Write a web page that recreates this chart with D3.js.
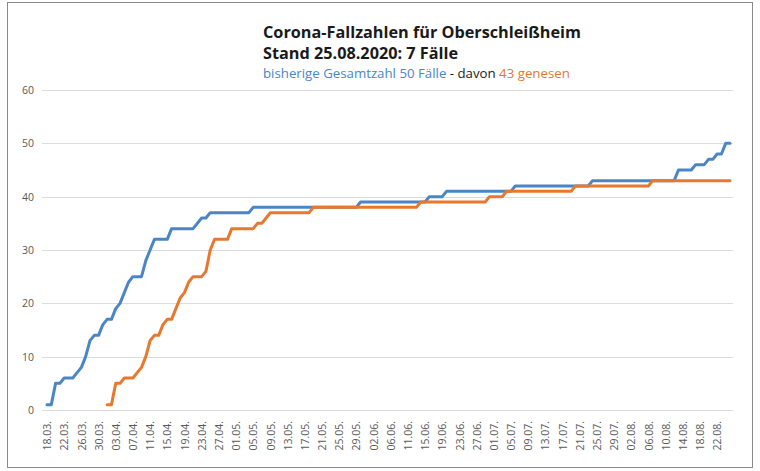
<!DOCTYPE html>
<html><head><meta charset="utf-8">
<script src="https://cdn.jsdelivr.net/npm/d3@7"></script>
<style>html,body{margin:0;padding:0;background:#fff;}svg{display:block;}</style>
</head><body>
<script>
const categories = [
"18.03.","19.03.","20.03.","21.03.","22.03.","23.03.","24.03.","25.03.","26.03.","27.03.","28.03.","29.03.","30.03.","31.03.",
"01.04.","02.04.","03.04.","04.04.","05.04.","06.04.","07.04.","08.04.","09.04.","10.04.","11.04.","12.04.","13.04.","14.04.","15.04.","16.04.","17.04.","18.04.","19.04.","20.04.","21.04.","22.04.","23.04.","24.04.","25.04.","26.04.","27.04.","28.04.","29.04.","30.04.",
"01.05.","02.05.","03.05.","04.05.","05.05.","06.05.","07.05.","08.05.","09.05.","10.05.","11.05.","12.05.","13.05.","14.05.","15.05.","16.05.","17.05.","18.05.","19.05.","20.05.","21.05.","22.05.","23.05.","24.05.","25.05.","26.05.","27.05.","28.05.","29.05.","30.05.","31.05.",
"01.06.","02.06.","03.06.","04.06.","05.06.","06.06.","07.06.","09.06.","10.06.","11.06.","12.06.","13.06.","14.06.","15.06.","16.06.","17.06.","18.06.","19.06.","20.06.","21.06.","22.06.","23.06.","24.06.","25.06.","26.06.","27.06.","28.06.","29.06.","30.06.",
"01.07.","02.07.","03.07.","04.07.","05.07.","06.07.","07.07.","08.07.","09.07.","10.07.","11.07.","12.07.","13.07.","14.07.","15.07.","16.07.","17.07.","18.07.","19.07.","20.07.","21.07.","22.07.","23.07.","24.07.","25.07.","26.07.","27.07.","28.07.","29.07.","30.07.","31.07.",
"01.08.","02.08.","03.08.","04.08.","05.08.","06.08.","07.08.","08.08.","09.08.","10.08.","11.08.","12.08.","13.08.","14.08.","15.08.","16.08.","17.08.","18.08.","19.08.","20.08.","21.08.","22.08.","23.08.","24.08.","25.08."
];
const gesamt = [
1,1,5,5,6,6,6,7,8,10,13,14,14,16,17,17,19,20,22,24,25,25,25,28,30,32,32,32,32,34,34,34,34,34,34,35,36,36,
37,37,37,37,37,37,37,37,37,37,
38,38,38,38,38,38,38,38,38,38,38,38,38,38,38,38,38,38,38,38,38,38,38,38,38,
39,39,39,39,39,39,39,39,39,39,39,39,39,39,39,39,
40,40,40,40,
41,41,41,41,41,41,41,41,41,41,41,41,41,41,41,41,
42,42,42,42,42,42,42,42,42,42,42,42,42,42,42,42,42,42,
43,43,43,43,43,43,43,43,43,43,43,43,43,43,43,43,43,43,43,43,
45,45,45,45,46,46,46,47,47,48,48,50,50
];
const genesen = [
null,null,null,null,null,null,null,null,null,null,null,null,null,null,
1,1,5,5,6,6,6,7,8,10,13,14,14,16,17,17,19,21,22,24,25,25,25,26,30,32,32,32,32,
34,34,34,34,34,34,35,35,36,
37,37,37,37,37,37,37,37,37,37,
38,38,38,38,38,38,38,38,38,38,38,38,38,38,38,38,38,38,38,38,38,38,38,38,38,
39,39,39,39,39,39,39,39,39,39,39,39,39,39,39,39,
40,40,40,40,
41,41,41,41,41,41,41,41,41,41,41,41,41,41,41,41,
42,42,42,42,42,42,42,42,42,42,42,42,42,42,42,42,42,42,
43,43,43,43,43,43,43,43,43,43,43,43,43,43,43,43,43,43,43
];
const yTicks = [0,10,20,30,40,50,60];
const titleLine1 = "Corona-Fallzahlen für Oberschleißheim";
const titleLine2 = "Stand 25.08.2020: 7 Fälle";
const subtitleParts = [
  {text:"bisherige Gesamtzahl 50 Fälle", color:"#4a86c6"},
  {text:" - davon ", color:"#1a1a1a"},
  {text:"43 genesen", color:"#e07a2e"}
];

const W = 760, H = 471;
const svg = d3.select("body").append("svg").attr("width", W).attr("height", H);
svg.append("rect").attr("x",0).attr("y",0).attr("width",W).attr("height",H).attr("fill","#fff");
svg.append("rect").attr("x",7.5).attr("y",2.5).attr("width",745).attr("height",465)
  .attr("fill","none").attr("stroke","#8a8a8a").attr("stroke-width",1);

const x = d3.scalePoint().domain(categories).range([47, 730]);
const y = d3.scaleLinear().domain([0,60]).range([410, 90]);

const font = "'Open Sans', 'Noto Sans', sans-serif";

// gridlines
svg.append("g").selectAll("line").data(yTicks).join("line")
  .attr("x1", 42).attr("x2", 733)
  .attr("y1", d => Math.round(y(d))+0.5).attr("y2", d => Math.round(y(d))+0.5)
  .attr("stroke", "#dcdcdc").attr("stroke-width", 1);

// y axis labels
const yAxis = d3.axisLeft(y).tickValues(yTicks).tickSize(0).tickPadding(0);
const yg = svg.append("g").attr("transform","translate(34,0)").call(yAxis);
yg.select(".domain").remove();
yg.selectAll("text").attr("font-family", font).attr("font-size", 10.5).attr("fill","#595959");

// x axis labels
const xTickVals = categories.filter((d,i) => i % 4 === 0);
const xAxis = d3.axisBottom(x).tickValues(xTickVals).tickSize(0).tickPadding(0);
const xg = svg.append("g").attr("transform","translate(0,421)").call(xAxis);
xg.select(".domain").remove();
xg.selectAll("text")
  .attr("font-family", font).attr("font-size", 10.5).attr("fill","#595959")
  .attr("transform","rotate(-90)")
  .attr("text-anchor","end")
  .attr("x", 0).attr("y", 0).attr("dy","0.35em");

// lines
const line = d3.line()
  .defined(d => d != null)
  .x((d,i) => x(categories[i]))
  .y(d => y(d));
svg.append("path").datum(gesamt).attr("d", line)
  .attr("fill","none").attr("stroke","#4a86c6").attr("stroke-width",3)
  .attr("stroke-linejoin","round").attr("stroke-linecap","round");
svg.append("path").datum(genesen).attr("d", line)
  .attr("fill","none").attr("stroke","#e8782d").attr("stroke-width",3)
  .attr("stroke-linejoin","round").attr("stroke-linecap","round");

// titles
function fitText(sel, target) {
  const w = sel.node().getComputedTextLength();
  const fs = parseFloat(sel.attr("font-size"));
  sel.attr("font-size", (fs * target / w).toFixed(2));
}
const t1 = svg.append("text").attr("x",263).attr("y",37.5).attr("font-family",font)
  .attr("font-weight","bold").attr("font-size",16).attr("fill","#1a1a1a").text(titleLine1);
fitText(t1, 318);
const t2 = svg.append("text").attr("x",263).attr("y",58.5).attr("font-family",font)
  .attr("font-weight","bold").attr("font-size",t1.attr("font-size")).attr("fill","#1a1a1a").text(titleLine2);
const t3 = svg.append("text").attr("x",263).attr("y",78).attr("font-family",font)
  .attr("font-size",12);
t3.selectAll("tspan").data(subtitleParts).join("tspan")
  .attr("fill", d => d.color).text(d => d.text);
fitText(t3, 307);
</script>
</body></html>
